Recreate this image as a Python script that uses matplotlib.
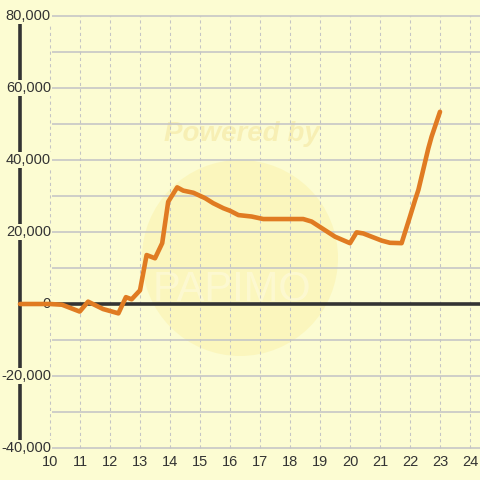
import numpy as np
import matplotlib.pyplot as plt
from matplotlib.patches import Circle

# data
x = [9.0, 10.0, 10.4, 10.99, 11.27, 11.77, 12.28, 12.53, 12.72, 13.0,
     13.22, 13.5, 13.74, 13.94, 14.24, 14.44, 14.78, 15.17, 15.44, 15.78,
     16.0, 16.28, 16.72, 17.11, 17.3, 18.44, 18.72, 19.5, 20.0, 20.22,
     20.44, 21.06, 21.33, 21.72, 22.0, 22.17, 22.28, 22.61, 22.72, 23.0]
y = [0, 0, -200, -2100, 650, -1400, -2600, 1900, 1300, 3800,
     13600, 12700, 16900, 28400, 32400, 31500, 30900, 29400, 28000, 26600,
     25900, 24700, 24300, 23600, 23600, 23600, 22900, 18700, 16900, 19900,
     19600, 17600, 17000, 16900, 24300, 28900, 31700, 43200, 46500, 53400]

xticks = list(range(10, 25))
yticks = list(range(-40000, 80001, 20000))
ygrid = list(range(-40000, 80001, 10000))

bg = '#fcfcd2'
plt.rcParams['font.family'] = ['Liberation Sans', 'DejaVu Sans']

fig = plt.figure(figsize=(4.8, 4.8), dpi=100, facecolor=bg)
ax = fig.add_axes([0, 0, 1, 1])
ax.set_facecolor(bg)
ax.set_xlim(8 + 1 / 3, 24 + 1 / 3)
ax.set_ylim(-48889, 84444)
ax.axis('off')

# watermark (pixel coords, origin bottom-left)
ax.add_patch(Circle((240, 480 - 258), 98, transform=None, facecolor='#fbefa0',
                    edgecolor='none', alpha=0.42, zorder=1))
ax.text(242 / 480, 1 - 134 / 480, 'Powered by', transform=ax.transAxes,
        ha='center', va='center', fontsize=20, fontweight='bold',
        style='italic', color='#f5eaa8', alpha=0.7, zorder=1)
ax.text(232 / 480, 1 - 290 / 480, 'PAPIMO', transform=ax.transAxes,
        ha='center', va='center', fontsize=30, color='white', alpha=0.3,
        zorder=1)

# grid
ax.hlines(ygrid, 9 + 1.07, 24.4, colors='#c6c6c6', lw=1.2, zorder=2)
ax.vlines(xticks, -40000, 80000, colors='#c4c4c4', lw=0.75,
          linestyles=(0, (3, 3)), zorder=2)

# axis lines
ax.axhline(0, xmin=(9 - 8.3333) / 16, color='#333333', lw=2.6, zorder=3)
ax.vlines(9, -40000, 77800, colors='#333333', lw=2.6, zorder=3)

ax.plot(x, y, color='#e07b22', lw=3.3, solid_joinstyle='round',
        solid_capstyle='round', zorder=5)

for v in yticks:
    ax.text(10.03, v, f'{v:,}', ha='right', va='center', fontsize=10.5,
            color='#333333', zorder=4,
            bbox=dict(facecolor=bg, edgecolor='none', pad=1))
for t in xticks:
    ax.text(t, -43800, str(t), ha='center', va='center', fontsize=10.5,
            color='#333333', zorder=4)

fig.savefig('out.png', dpi=100, facecolor=bg)
